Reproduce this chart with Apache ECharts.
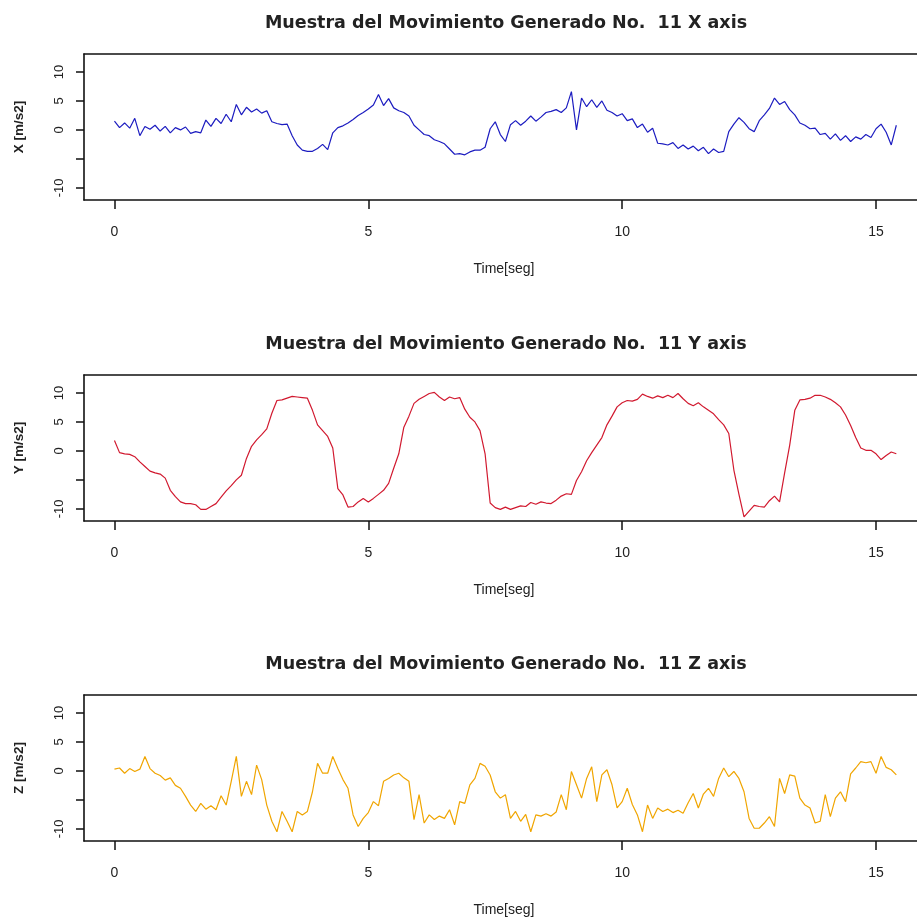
<!DOCTYPE html>
<html>
<head>
<meta charset="utf-8">
<script src="https://cdn.jsdelivr.net/npm/echarts@6/dist/echarts.min.js"></script>
<style>
  html, body { margin: 0; padding: 0; background: #fff; }
  #main { width: 917px; height: 920px; }
</style>
</head>
<body>
<div id="main"></div>
<script>
// sample spacing in seconds
var dt = 0.1;

var xAxisTicks = [0, 5, 10, 15];
var yAxisTicks = [-10, -5, 0, 5, 10];
var yAxisLabels = [-10, 0, 5, 10];

var titles = [
    'Muestra del Movimiento Generado No.  11 X axis',
    'Muestra del Movimiento Generado No.  11 Y axis',
    'Muestra del Movimiento Generado No.  11 Z axis'
];
var yNames = ['X [m/s2]', 'Y [m/s2]', 'Z [m/s2]'];

var accX = [
    1.5, 0.4, 1.2, 0.3, 2.0, -1.0, 0.6, 0.1, 0.8, -0.2,
    0.6, -0.5, 0.4, 0.0, 0.5, -0.6, -0.3, -0.5, 1.7, 0.6,
    2.0, 1.1, 2.7, 1.4, 4.4, 2.6, 3.9, 3.1, 3.6, 2.9,
    3.3, 1.4, 1.1, 0.9, 1.0, -1.0, -2.6, -3.5, -3.7, -3.7,
    -3.2, -2.5, -3.4, -0.5, 0.4, 0.7, 1.2, 1.8, 2.5, 3.0,
    3.6, 4.3, 6.1, 4.2, 5.4, 3.8, 3.3, 3.0, 2.4, 0.8,
    0.0, -0.8, -1.0, -1.7, -2.0, -2.4, -3.3, -4.2, -4.1, -4.3,
    -3.8, -3.5, -3.5, -3.0, 0.2, 1.4, -0.8, -2.0, 0.9, 1.6,
    0.8, 1.5, 2.4, 1.5, 2.2, 3.0, 3.2, 3.5, 3.0, 3.8,
    6.6, 0.0, 5.5, 4.0, 5.2, 3.9, 5.0, 3.4, 3.0, 2.4,
    2.8, 1.6, 1.9, 0.4, 1.0, -0.4, 0.3, -2.3, -2.4, -2.6,
    -2.2, -3.2, -2.6, -3.3, -2.8, -3.6, -3.0, -4.1, -3.3, -3.9,
    -3.7, -0.3, 1.0, 2.1, 1.3, 0.2, -0.3, 1.6, 2.6, 3.7,
    5.5, 4.4, 4.9, 3.5, 2.6, 1.2, 0.8, 0.2, 0.3, -0.8,
    -0.6, -1.6, -0.7, -1.8, -1.0, -2.0, -1.2, -1.6, -0.8, -1.3,
    0.2, 1.0, -0.4, -2.6, 0.8
];

var accY = [
    1.8, -0.3, -0.5, -0.6, -1.0, -1.9, -2.7, -3.5, -3.8, -4.0,
    -4.7, -6.8, -7.9, -8.8, -9.1, -9.1, -9.3, -10.1, -10.1, -9.6,
    -9.1, -8.0, -6.9, -6.0, -5.0, -4.2, -1.3, 0.8, 1.9, 2.8,
    3.8, 6.5, 8.7, 8.8, 9.1, 9.4, 9.3, 9.2, 9.1, 7.0,
    4.5, 3.5, 2.5, 0.5, -6.5, -7.6, -9.7, -9.6, -8.8, -8.2,
    -8.8, -8.2, -7.5, -6.8, -5.6, -3.0, -0.5, 4.1, 6.0, 8.2,
    8.9, 9.4, 9.9, 10.1, 9.3, 8.7, 9.3, 9.0, 9.2, 7.2,
    5.8, 5.0, 3.5, -0.5, -9.0, -9.8, -10.1, -9.7, -10.1, -9.8,
    -9.5, -9.6, -8.9, -9.2, -8.8, -9.0, -9.1, -8.5, -7.8, -7.4,
    -7.5, -5.1, -3.6, -1.7, -0.3, 1.0, 2.3, 4.5, 6.0, 7.6,
    8.3, 8.7, 8.6, 8.9, 9.8, 9.4, 9.1, 9.5, 9.2, 9.6,
    9.2, 9.9, 9.0, 8.2, 7.8, 8.3, 7.6, 7.0, 6.4, 5.4,
    4.5, 3.0, -3.3, -7.5, -11.4, -10.4, -9.4, -9.6, -9.7, -8.6,
    -7.8, -8.8, -3.8, 1.0, 7.0, 8.8, 8.9, 9.1, 9.6, 9.6,
    9.3, 8.9, 8.3, 7.6, 6.2, 4.4, 2.3, 0.5, 0.1, 0.1,
    -0.5, -1.5, -0.8, -0.2, -0.5
];

var accZ = [
    0.3, 0.5, -0.4, 0.4, -0.1, 0.3, 2.5, 0.4, -0.4, -0.8,
    -1.6, -1.2, -2.5, -3.0, -4.4, -5.9, -7.0, -5.6, -6.6, -6.0,
    -6.7, -4.3, -5.9, -1.8, 2.5, -4.4, -1.8, -4.1, 1.0, -1.5,
    -5.9, -8.7, -10.5, -7.0, -8.7, -10.5, -7.0, -7.6, -7.0, -3.6,
    1.3, -0.4, -0.4, 2.5, 0.4, -1.5, -3.0, -7.6, -9.6, -8.2,
    -7.2, -5.3, -6.0, -1.8, -1.3, -0.7, -0.4, -1.2, -1.8, -8.4,
    -4.1, -9.0, -7.6, -8.4, -7.8, -8.2, -6.7, -9.3, -5.3, -5.6,
    -2.4, -1.3, 1.3, 0.8, -0.7, -3.6, -4.7, -4.1, -8.2, -7.0,
    -8.7, -7.5, -10.5, -7.6, -7.8, -7.4, -7.8, -7.1, -4.1, -6.7,
    -0.1, -2.4, -4.7, -1.3, 0.7, -5.3, -0.7, 0.2, -2.4, -6.4,
    -5.3, -3.0, -5.8, -7.6, -10.5, -5.9, -8.2, -6.4, -7.0, -6.6,
    -7.2, -6.8, -7.3, -5.5, -3.9, -6.4, -4.0, -3.0, -4.4, -1.3,
    0.5, -1.0, -0.1, -1.3, -3.6, -8.2, -9.9, -9.9, -9.0, -7.9,
    -9.6, -1.3, -3.9, -0.7, -0.9, -4.7, -5.9, -6.4, -9.0, -8.7,
    -4.1, -7.9, -4.7, -3.6, -5.3, -0.5, 0.5, 1.6, 1.4, 1.6,
    -0.4, 2.5, 0.6, 0.2, -0.7
];

var lineColors = ['#1c1cc0', '#d1192f', '#f0a500'];
var allSeries = [accX, accY, accZ];

var dom = document.getElementById('main');
var myChart = echarts.init(dom, null, { renderer: 'canvas' });

var gridTops = [54, 375, 695];
var grids = [], xAxes = [], topAxes = [], yAxes = [], series = [], titleList = [];
var boxLine = { show: true, onZero: false, lineStyle: { color: '#111', width: 1.6 } };

for (var k = 0; k < 3; k++) {
    // plot box runs past the right edge of the picture, like the reference
    grids.push({
        left: 84,
        top: gridTops[k],
        width: 840,
        height: 146,
        outerBoundsMode: 'none',
        containLabel: false,
        show: false
    });
    titleList.push({
        text: titles[k],
        left: 501,
        top: gridTops[k] - 45,
        textAlign: 'center',
        textStyle: {
            fontFamily: 'DejaVu Sans',
            fontWeight: 'bold',
            fontSize: 17.5,
            color: '#222'
        }
    });
    xAxes.push({
        type: 'value',
        gridIndex: k,
        position: 'bottom',
        min: -0.6,
        max: 15.945,
        name: 'Time[seg]',
        nameLocation: 'middle',
        nameGap: 62,
        nameTextStyle: { fontFamily: 'Liberation Sans', fontSize: 14, color: '#222' },
        axisLine: boxLine,
        splitLine: { show: false },
        axisTick: {
            show: true,
            length: 9,
            customValues: xAxisTicks,
            lineStyle: { color: '#111', width: 1.5 }
        },
        axisLabel: {
            customValues: xAxisTicks,
            margin: 25,
            fontFamily: 'Liberation Sans',
            fontSize: 14,
            color: '#222'
        }
    });
    // top edge of the box
    topAxes.push({
        type: 'value',
        gridIndex: k,
        position: 'top',
        min: -0.6,
        max: 15.945,
        axisLine: boxLine,
        axisTick: { show: false },
        axisLabel: { show: false },
        splitLine: { show: false }
    });
    yAxes.push({
        type: 'value',
        gridIndex: k,
        min: -12.1,
        max: 13.1,
        name: yNames[k],
        nameLocation: 'middle',
        nameRotate: 90,
        nameGap: 58,
        nameTextStyle: { fontFamily: 'Liberation Sans', fontWeight: 'bold', fontSize: 13.5, color: '#222' },
        axisLine: boxLine,
        splitLine: { show: false },
        axisTick: {
            show: true,
            length: 8,
            customValues: yAxisTicks,
            lineStyle: { color: '#111', width: 1.5 }
        },
        axisLabel: {
            customValues: yAxisLabels,
            rotate: 90,
            margin: 18,
            fontFamily: 'Liberation Sans',
            fontSize: 13,
            color: '#222'
        }
    });
    var pts = [];
    for (var i = 0; i < allSeries[k].length; i++) {
        pts.push([+(i * dt).toFixed(2), allSeries[k][i]]);
    }
    series.push({
        type: 'line',
        xAxisIndex: k,
        yAxisIndex: k,
        data: pts,
        showSymbol: false,
        symbol: 'none',
        lineStyle: { color: lineColors[k], width: 1.2 },
        clip: true
    });
}

var option = {
    backgroundColor: '#fff',
    animation: false,
    title: titleList,
    grid: grids,
    xAxis: xAxes.concat(topAxes),
    yAxis: yAxes,
    series: series
};

if (option && typeof option === "object") {
    myChart.setOption(option, true);
}
</script>
</body>
</html>
